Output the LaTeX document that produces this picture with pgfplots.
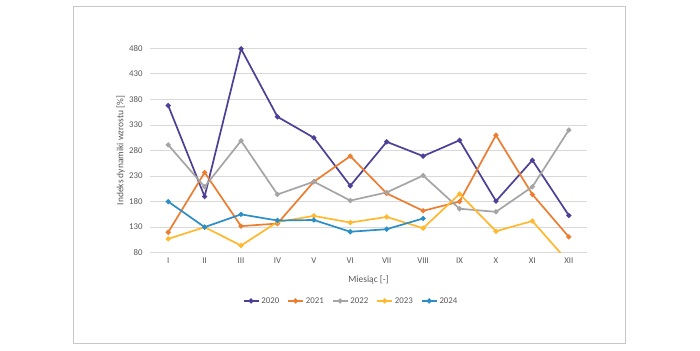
\documentclass[border=0pt]{standalone}
\usepackage{fontspec}
\setmainfont{Carlito}
\usepackage{pgfplots}
\pgfplotsset{compat=1.18}
\definecolor{c2020}{HTML}{4E3F97}
\definecolor{c2021}{HTML}{ED7D31}
\definecolor{c2022}{HTML}{A5A5A5}
\definecolor{c2023}{HTML}{FFB92E}
\definecolor{c2024}{HTML}{2B8FC6}
\definecolor{gridc}{HTML}{D9D9D9}
\definecolor{txt}{HTML}{595959}
\begin{document}
\begin{tikzpicture}[x=1bp,y=1bp]
\useasboundingbox (0,0) rectangle (700,350);
\fill[white] (0,0) rectangle (700,350);
\draw[color=gridc!80!gray, line width=0.8bp] (73.3,6.5) rectangle (625.7,343.5);
\begin{axis}[
  at={(150bp,97.3bp)}, anchor=south west,
  scale only axis, width=437bp, height=204.4bp,
  xmin=-0.5, xmax=11.5, ymin=80, ymax=480,
  xtick={0,...,11},
  xticklabels={I,II,III,IV,V,VI,VII,VIII,IX,X,XI,XII},
  ytick={80,130,...,480},
  ymajorgrids, grid style={gridc, line width=0.75bp},
  axis x line*=bottom, axis y line*=left,
  x axis line style={draw=gridc, line width=0.75bp, -},
  y axis line style={draw=none},
  major tick length=0pt,
  tick label style={font=\fontsize{8.8bp}{10bp}\selectfont, text=txt},
  /pgf/number format/assume math mode=true,
  yticklabel style={anchor=east, xshift=-4bp},
  xticklabel style={anchor=center, yshift=-8bp},
  every axis y label/.style={at={(axis description cs:-0.067,0.5)}, rotate=90, anchor=center, font=\fontsize{9.5bp}{11bp}\selectfont, text=txt},
  every axis x label/.style={at={(axis description cs:0.5,-0.1336)}, anchor=center, font=\fontsize{9.5bp}{11bp}\selectfont, text=txt},
  ylabel={Indeks dynamiki wzrostu [\%]},
  xlabel={Miesiąc [-]},
  legend columns=5,
  legend style={at={(0.46,-0.236)}, anchor=center, draw=none, fill=none,
    font=\fontsize{8.8bp}{10bp}\selectfont, text=txt,
    /tikz/every even column/.append style={column sep=6bp}},
  legend image code/.code={\draw[#1, mark repeat=2, mark phase=2] plot coordinates {(0bp,0bp) (7.5bp,0bp) (15bp,0bp)};},
  every axis plot/.append style={line width=1.7bp, mark=*, mark size=1.6bp},
]
\addplot[c2020, mark options={fill=c2020}] coordinates {(0,368) (1,190) (2,479) (3,346) (4,305) (5,211) (6,297) (7,269) (8,300) (9,181) (10,261) (11,153)};
\addlegendentry{2020}
\addplot[c2021, mark options={fill=c2021}] coordinates {(0,120) (1,237) (2,132) (3,137) (4,219) (5,269) (6,196) (7,162) (8,180) (9,310) (10,194) (11,111)};
\addlegendentry{2021}
\addplot[c2022, mark options={fill=c2022}] coordinates {(0,291) (1,209) (2,299) (3,194) (4,219) (5,182) (6,198) (7,231) (8,166) (9,160) (10,209) (11,320)};
\addlegendentry{2022}
\addplot[c2023, mark options={fill=c2023}] coordinates {(0,107) (1,130) (2,94) (3,140) (4,152) (5,139) (6,150) (7,128) (8,195) (9,122) (10,142) (11,61)};
\addlegendentry{2023}
\addplot[c2024, mark options={fill=c2024}] coordinates {(0,180) (1,130) (2,155) (3,143) (4,144) (5,121) (6,126) (7,147)};
\addlegendentry{2024}
\end{axis}
\end{tikzpicture}
\end{document}
